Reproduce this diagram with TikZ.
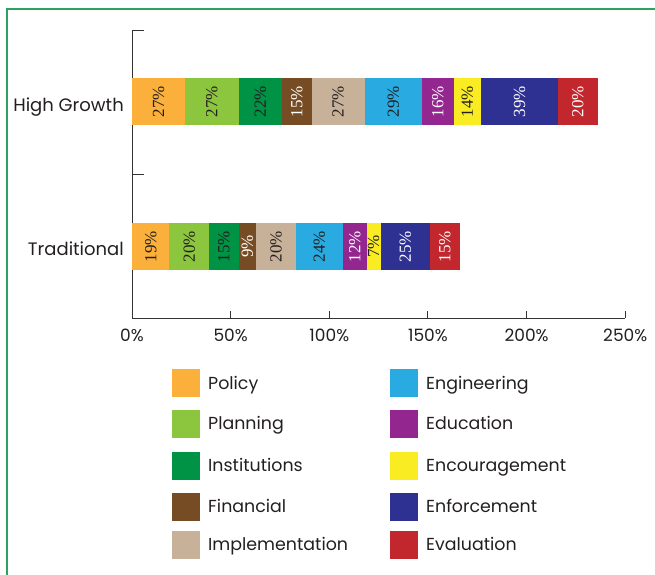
\documentclass[tikz,border=0pt]{standalone}
\usepackage{fontspec}
\setmainfont{Poppins}
\newfontfamily\barfont{Liberation Serif}
\usepackage{tikz}
\usetikzlibrary{calc}

\definecolor{cpol}{RGB}{251,176,59}
\definecolor{cpla}{RGB}{140,198,63}
\definecolor{cins}{RGB}{0,146,69}
\definecolor{cfin}{RGB}{117,76,36}
\definecolor{cimp}{RGB}{199,178,153}
\definecolor{ceng}{RGB}{41,171,226}
\definecolor{cedu}{RGB}{147,39,143}
\definecolor{cenc}{RGB}{250,236,35}
\definecolor{cenf}{RGB}{46,49,146}
\definecolor{ceva}{RGB}{193,39,45}
\definecolor{frameg}{RGB}{45,160,100}
\definecolor{ink}{RGB}{35,31,32}

\tikzset{
    axisline/.style={draw=black!80, line width=1pt},
    barlabel/.style={rotate=90, inner sep=0pt, font=\barfont\fontsize{17}{17}\selectfont},
    catlabel/.style={anchor=base east, inner sep=0pt, text=ink, font=\fontsize{18}{18}\selectfont},
    ticklabel/.style={anchor=base, inner sep=0pt, text=ink, font=\fontsize{17}{17}\selectfont},
    legbox/.style={minimum size=28pt, inner sep=0pt},
    leglabel/.style={anchor=base west, inner sep=0pt, text=ink, font=\fontsize{17.4}{17.4}\selectfont}
}

\begin{document}
\begin{tikzpicture}[x=1pt,y=-1pt]
    \useasboundingbox (0,0) rectangle (655,574);
    \draw [frameg, line width=2pt] (7,590) -- (7,9) -- (670,9);

    % axes
    \draw [axisline] (144,30) -- (132,30) -- (132,318) -- (625,318);
    \draw [axisline] (132,174) -- (144,174);
    \foreach \p in {50,100,...,250}
    {
        \draw [axisline] ({132+\p*1.973},318) -- ({132+\p*1.973},311);
    }
    \foreach \p in {0,50,...,250}
    {
        \node [ticklabel] (tick\p) at ({132+\p*1.973},341) {\p\%};
    }
    \node [catlabel] (high) at (124,111.5) {High Growth};
    \node [catlabel] (trad) at (124,255) {Traditional};

    % bars
    \foreach \v/\c/\t [count=\i, remember=\xe as \xs (initially 132)] in
        {27/cpol/ink, 27/cpla/ink, 22/cins/ink, 15/cfin/white, 27/cimp/ink,
         29/ceng/ink, 16/cedu/white, 14/cenc/ink, 39/cenf/white, 20/ceva/white}
    {
        \pgfmathsetmacro\xe{\xs+\v*1.973}
        \fill [\c] (\xs,78) rectangle (\xe,125);
        \node [barlabel, text=\t] (hg\i) at ({(\xs+\xe)/2},101.5) {\v\%};
    }
    \foreach \v/\c/\t [count=\i, remember=\xe as \xs (initially 132)] in
        {19/cpol/ink, 20/cpla/ink, 15/cins/ink, 9/cfin/white, 20/cimp/ink,
         24/ceng/ink, 12/cedu/white, 7/cenc/ink, 25/cenf/white, 15/ceva/white}
    {
        \pgfmathsetmacro\xe{\xs+\v*1.973}
        \fill [\c] (\xs,223) rectangle (\xe,270);
        \node [barlabel, text=\t] (tr\i) at ({(\xs+\xe)/2},246.5) {\v\%};
    }

    % legend
    \foreach \c/\l/\y [count=\i] in {cpol/Policy/383, cpla/Planning/423.5,
        cins/Institutions/465.5, cfin/Financial/506.5, cimp/Implementation/544.5}
    {
        \node [legbox, fill=\c] (lbox\i) at (186,\y) {};
        \node [leglabel] (ltext\i) at (208,\y+6) {\l};
    }
    \foreach \c/\l/\y [count=\i from 6] in {ceng/Engineering/383, cedu/Education/423.5,
        cenc/Encouragement/465.5, cenf/Enforcement/506.5, ceva/Evaluation/544.5}
    {
        \node [legbox, fill=\c] (lbox\i) at (404,\y) {};
        \node [leglabel] (ltext\i) at (426,\y+6) {\l};
    }
\end{tikzpicture}
\end{document}
